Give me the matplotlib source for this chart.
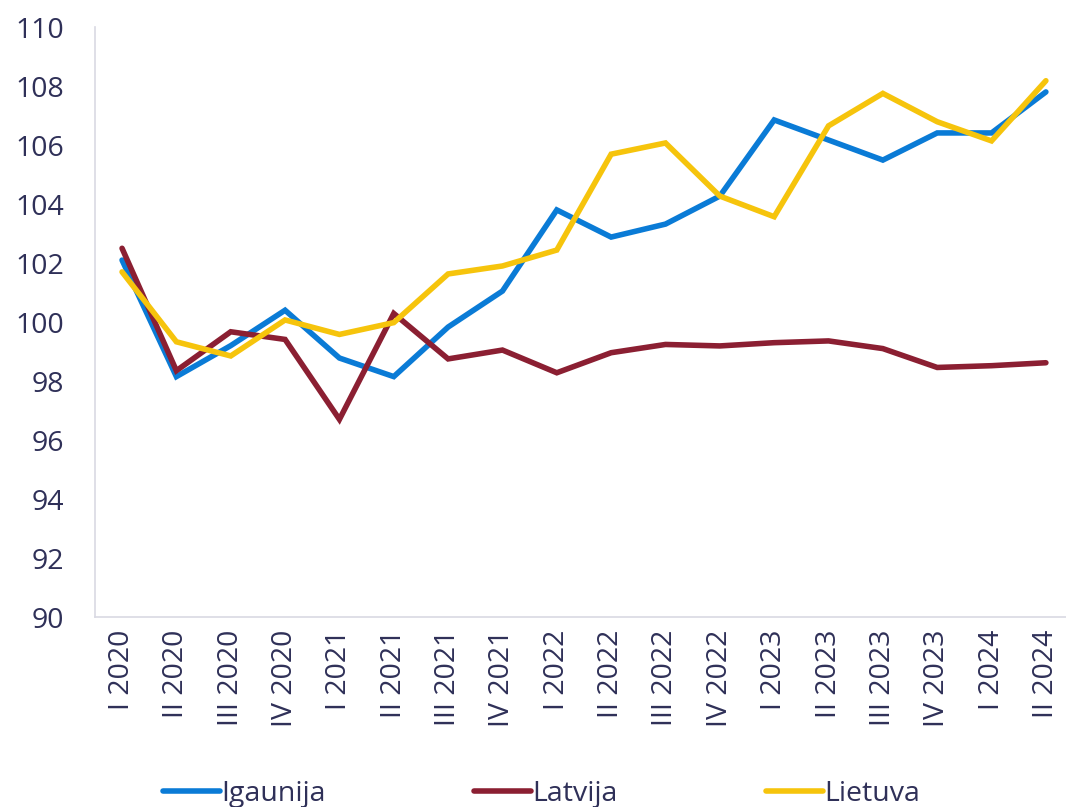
import matplotlib
matplotlib.use("Agg")
import matplotlib.pyplot as plt

quarters = ["I 2020", "II 2020", "III 2020", "IV 2020",
            "I 2021", "II 2021", "III 2021", "IV 2021",
            "I 2022", "II 2022", "III 2022", "IV 2022",
            "I 2023", "II 2023", "III 2023", "IV 2023",
            "I 2024", "II 2024"]

igaunija = [102.1, 98.15, 99.2, 100.4, 98.78, 98.15, 99.83, 101.05,
            103.8, 102.88, 103.32, 104.27, 106.85, 106.17, 105.49, 106.41,
            106.41, 107.8]
latvija = [102.5, 98.35, 99.67, 99.41, 96.7, 100.29, 98.75, 99.05,
           98.28, 98.96, 99.24, 99.19, 99.3, 99.36, 99.1, 98.46,
           98.52, 98.62]
lietuva = [101.7, 99.33, 98.85, 100.07, 99.58, 99.98, 101.63, 101.9,
           102.44, 105.69, 106.07, 104.27, 103.57, 106.65, 107.75, 106.79,
           106.14, 108.18]

series = [("Igaunija", igaunija, "#0a7bd6"),
          ("Latvija", latvija, "#8b1f32"),
          ("Lietuva", lietuva, "#f6c40c")]

TEXT = "#2f3058"
plt.rcParams["font.family"] = ["Open Sans", "DejaVu Sans"]

fig = plt.figure(figsize=(10.66, 8.07), dpi=100)
ax = fig.add_axes([0.089, 0.2354, 0.911, 0.7311])

x = list(range(len(quarters)))
for name, vals, col in series:
    ax.plot(x, vals, color=col, linewidth=4, label=name,
            solid_capstyle="round", solid_joinstyle="miter")

ax.set_ylim(90, 110)
ax.set_yticks(range(90, 111, 2))
ax.set_xlim(-0.5, 17.37)
ax.set_xticks(x)
ax.set_xticklabels(quarters, rotation=90)
ax.tick_params(axis="both", length=0, labelsize=20.5, labelcolor=TEXT)
ax.tick_params(axis="x", pad=9)
ax.tick_params(axis="y", pad=22)

for s in ["top", "right"]:
    ax.spines[s].set_visible(False)
for s in ["left", "bottom"]:
    ax.spines[s].set_color("#d9d9e3")
    ax.spines[s].set_linewidth(1.2)

fig.legend(loc="lower center", bbox_to_anchor=(0.508, -0.033), ncol=3,
           frameon=False, fontsize=20.5, labelcolor=TEXT,
           handlelength=2.0, handletextpad=0.05, columnspacing=5.2)

fig.savefig("out.png", dpi=100)
